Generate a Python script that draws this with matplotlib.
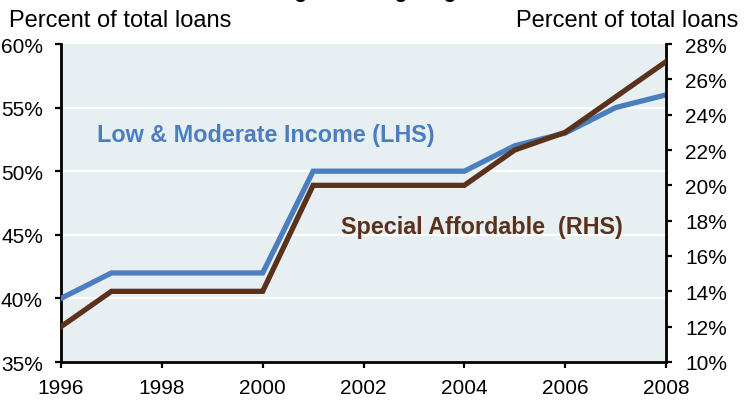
import matplotlib
matplotlib.use("Agg")
import matplotlib.pyplot as plt
from matplotlib.ticker import FuncFormatter

plt.rcParams['font.family'] = ['Liberation Sans', 'DejaVu Sans']

years = [1996, 1997, 1998, 1999, 2000, 2001, 2002, 2003, 2004, 2005, 2006, 2007, 2008]
low_moderate = [40, 42, 42, 42, 42, 50, 50, 50, 50, 52, 53, 55, 56]
special_affordable = [12, 14, 14, 14, 14, 20, 20, 20, 20, 22, 23, 25, 27]
x_ticks = [1996, 1998, 2000, 2002, 2004, 2006, 2008]
left_ticks = [35, 40, 45, 50, 55, 60]
right_ticks = [10, 12, 14, 16, 18, 20, 22, 24, 26, 28]

blue = '#4A7EBF'
brown = '#5A321B'
bg = '#E8EFF3'

fig = plt.figure(figsize=(7.47, 4.02), dpi=100)
ax = fig.add_axes([61 / 747, 1 - 363 / 402, (666 - 61) / 747, (363 - 45) / 402])
ax2 = ax.twinx()

ax.set_facecolor(bg)
ax.set_zorder(0)
ax2.set_zorder(1)
ax2.patch.set_visible(False)

for v in left_ticks[1:-1]:
    ax.axhline(v, color='white', lw=1.6, zorder=1)

ax.plot(years, low_moderate, color=blue, lw=3.8, solid_joinstyle='miter', zorder=3)
ax2.plot(years, special_affordable, color=brown, lw=3.8, solid_joinstyle='miter', zorder=3)

ax.set_xlim(1996, 2008)
ax.set_ylim(35, 60)
ax2.set_ylim(10, 28)
ax.set_xticks(x_ticks)
ax.set_yticks(left_ticks)
ax2.set_yticks(right_ticks)

pct = FuncFormatter(lambda v, p: f"{v:.0f}%")
ax.yaxis.set_major_formatter(pct)
ax2.yaxis.set_major_formatter(pct)

for a in (ax, ax2):
    for s in a.spines.values():
        s.set_visible(False)
    a.tick_params(direction='out', length=4.5, width=1.6, colors='black',
                  labelsize=15)
ax.spines['left'].set_visible(True)
ax.spines['left'].set_linewidth(2)
ax.spines['bottom'].set_visible(True)
ax.spines['bottom'].set_linewidth(2)
ax2.spines['right'].set_visible(True)
ax2.spines['right'].set_linewidth(2)
ax.tick_params(axis='y', pad=8.5)
ax2.tick_params(axis='y', pad=9.4)
ax.tick_params(axis='x', pad=7)

ax.text(1996.0 + (97 - 61) / 605 * 12, 52.40, 'Low & Moderate Income (LHS)',
        color=blue, fontsize=16.8, fontweight='bold', va='baseline', ha='left')
ax.text(1996.0 + (341 - 61) / 605 * 12, 45.14, 'Special Affordable  (RHS)',
        color=brown, fontsize=16.8, fontweight='bold', va='baseline', ha='left')

fig.text(9 / 747, 1 - 27 / 402, 'Percent of total loans', fontsize=17,
         ha='left', va='baseline')
fig.text(738 / 747, 1 - 27 / 402, 'Percent of total loans', fontsize=17,
         ha='right', va='baseline')

fig.text(176 / 747, 1 + 1.5 / 402, 'GSE Housing Goal Targeting', fontsize=14.8,
         fontweight='bold', ha='left', va='baseline')

fig.savefig('out.png', dpi=100)
